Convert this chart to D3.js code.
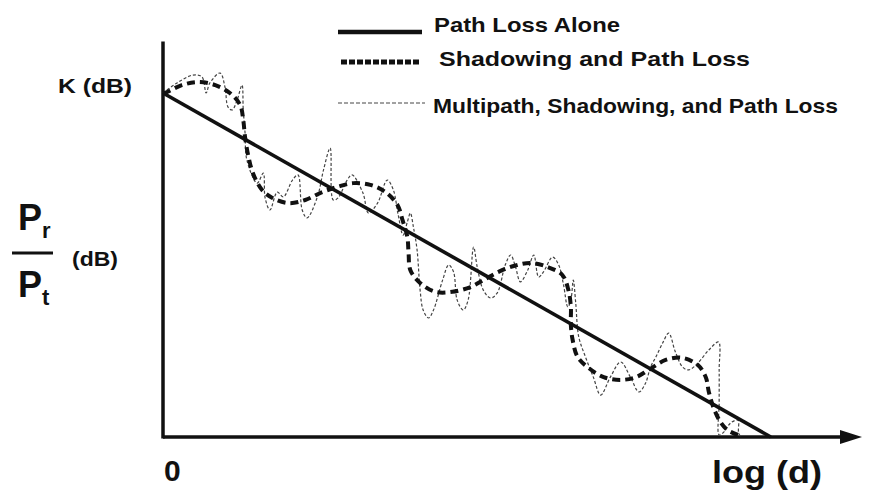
<!DOCTYPE html>
<html><head><meta charset="utf-8">
<script src="https://cdn.jsdelivr.net/npm/d3@7"></script>
<style>
body{margin:0;background:#fff}
text{font-family:"Liberation Sans",Arial,sans-serif;font-weight:bold;fill:#111}
</style>
</head><body><svg id="c" width="883" height="497"></svg>
<script>
// log(d) units on x, received power (dB, relative) on y
const pathLossX = [0, 100];
const pathLossY = [100, 0];
const shadowX = [0,0.3,3.1,5.8,8.6,11.0,12.7,13.2,13.5,14.0,14.8,16.3,18.0,20.6,23.4,26.2,28.7,31.3,34.1,36.6,38.6,39.4,40.2,40.4,40.7,42.3,44.8,47.6,50.6,52.7,55.2,57.7,60.5,63.3,65.7,66.7,67.1,67.1,67.4,68.2,70.0,72.5,75.3,77.8,79.9,82.7,85.5,88.0,89.3,89.8,90.6,91.8,92.9,94.6];
const shadowY = [100,100,102.3,103.2,102.3,100,96.5,92.2,87.2,82.0,76.7,71.8,69.5,68.0,68.9,71.2,72.7,73.8,73.3,71.2,67.4,63.1,58.1,53.5,48.5,44.8,42.2,42.2,43.6,45.6,48.0,49.7,50.6,49.4,47.1,42.7,37.8,32.6,28.2,23.3,20.1,17.4,16.6,17.4,19.5,22.4,23.0,20.9,17.4,13.1,8.4,4.1,2.0,0.6];
const multiX = [0,2.3,4.9,6.4,7.1,7.7,9.4,10.2,10.7,11.4,12.2,13.0,13.2,13.5,13.8,15.5,16.5,16.8,17.6,18.8,19.8,21.3,22.2,22.9,23.7,25.4,26.4,27.5,28.0,28.8,30.3,31.1,32.9,33.8,35.3,36.9,37.9,38.7,39.5,40.2,40.7,41.2,41.8,42.3,42.8,43.7,44.5,46.0,47.0,47.8,48.4,49.4,50.2,51.1,51.7,52.7,53.9,55.0,56.3,57.2,58.0,58.8,60.0,61.0,61.8,62.6,64.1,65.1,65.9,66.6,67.1,67.5,67.9,68.4,69.5,70.8,72.0,73.6,75.3,76.9,78.3,79.4,80.2,81.1,82.2,83.2,84.3,85.5,86.5,88.0,89.8,91.4,91.5,91.5,91.5,92.3,93.4,94.6,94.7,95.1];
const multiY = [100,102.9,105.2,104.7,100,102.9,105.8,101.7,95.9,95.1,98.0,102.3,95.1,88.4,80.5,73.8,76.7,69.5,66.0,71.2,69.8,74.7,76.2,66.0,63.7,69.8,77.6,84.0,68.9,69.5,74.7,76.2,70.9,65.1,68.0,74.7,71.8,64.5,58.7,62.5,65.1,61.0,54.4,42.7,36.9,34.6,36.9,45.6,50.0,48.0,39.8,36.9,39.8,55.2,49.4,42.7,40.4,41.9,50.0,52.9,49.4,45.1,48.5,52.9,46.5,48.0,52.3,50.0,44.2,37.8,39.8,45.6,39.0,29.1,23.3,17.4,12.2,17.4,21.8,17.4,13.1,15.7,20.3,23.3,27.3,30.2,24.7,20.3,19.5,21.5,25.3,27.6,19.5,9.9,0.6,1.5,4.1,4.9,1.2,0];
const seriesNames = ["Path Loss Alone", "Shadowing and Path Loss", "Multipath, Shadowing, and Path Loss"];
const xLabel = "log (d)";
const xTickLabel = "0";
const kLabel = "K (dB)";
const domainMax = 115;

const svg = d3.select("#c");
const x = d3.scaleLinear().domain([0, domainMax]).range([163, 862]);
const y = d3.scaleLinear().domain([0, domainMax]).range([437, 41.4]);

const styles = [
  {w:3.6, dash:null, col:"#111"},
  {w:4, dash:"8,5", col:"#111"},
  {w:1.2, dash:"3,2", col:"#444"}
];

// axes
svg.append("line").attr("x1", x(0)).attr("x2", x(0)).attr("y1", y(0)+1.5).attr("y2", y(domainMax))
  .attr("stroke","#111").attr("stroke-width",3.5);
svg.append("line").attr("x1", x(0)).attr("x2", x(domainMax)-16).attr("y1", y(0)).attr("y2", y(0))
  .attr("stroke","#111").attr("stroke-width",3.5);
svg.append("path")
  .attr("d", `M${x(domainMax)},${y(0)} L${x(domainMax)-22},${y(0)-7} L${x(domainMax)-22},${y(0)+7} Z`)
  .attr("fill","#111");

const line = d3.line().x(d=>x(d[0])).y(d=>y(d[1]));
const curve = d3.line().x(d=>x(d[0])).y(d=>y(d[1])).curve(d3.curveCatmullRom.alpha(0.5));

const data = [
  d3.zip(pathLossX, pathLossY),
  d3.zip(shadowX, shadowY),
  d3.zip(multiX, multiY)
];

// multipath (thin) first, then shadowing, then path loss on top
svg.append("path").attr("d", curve(data[2])).attr("fill","none")
  .attr("stroke",styles[2].col).attr("stroke-width",styles[2].w).attr("stroke-dasharray",styles[2].dash);
svg.append("path").attr("d", curve(data[1])).attr("fill","none")
  .attr("stroke",styles[1].col).attr("stroke-width",styles[1].w).attr("stroke-dasharray",styles[1].dash);
svg.append("path").attr("d", line(data[0])).attr("fill","none")
  .attr("stroke",styles[0].col).attr("stroke-width",styles[0].w);

// legend
const legY = [32, 62, 103];
const legTextY = [32, 66, 113];
const legTextX = [434, 439, 433];
const legTextLen = [186, 311, 405];
const legLine = [[338,422],[341,420],[338,425]];
const legStyle = [
  {w:4.5, dash:null, col:"#111"},
  {w:5, dash:"6,2", col:"#111"},
  {w:1, dash:"4,2", col:"#444"}
];
seriesNames.forEach((n,i)=>{
  svg.append("line").attr("x1",legLine[i][0]).attr("x2",legLine[i][1]).attr("y1",legY[i]).attr("y2",legY[i])
    .attr("stroke",legStyle[i].col).attr("stroke-width",legStyle[i].w).attr("stroke-dasharray",legStyle[i].dash);
  svg.append("text").attr("x",legTextX[i]).attr("y",legTextY[i]).attr("font-size",21)
    .attr("textLength",legTextLen[i]).attr("lengthAdjust","spacingAndGlyphs").text(n);
});

// labels
svg.append("text").attr("x",58).attr("y",93).attr("font-size",21)
  .attr("textLength",74).attr("lengthAdjust","spacingAndGlyphs").text(kLabel);
svg.append("text").attr("x",x(0)+1).attr("y",481).attr("font-size",30).text(xTickLabel);
svg.append("text").attr("x",712).attr("y",483).attr("font-size",31)
  .attr("textLength",110).attr("lengthAdjust","spacingAndGlyphs").text(xLabel);

// y label: Pr / Pt (dB), subscripts as tspans of the same text
const pr = svg.append("text").attr("x",18).attr("y",230);
pr.append("tspan").attr("font-size",36).text("P");
pr.append("tspan").attr("font-size",22).attr("dy",8).text("r");
svg.append("line").attr("x1",12).attr("x2",53).attr("y1",253).attr("y2",253).attr("stroke","#111").attr("stroke-width",3);
const pt = svg.append("text").attr("x",18).attr("y",297);
pt.append("tspan").attr("font-size",36).text("P");
pt.append("tspan").attr("font-size",22).attr("dy",8).text("t");
svg.append("text").attr("x",72).attr("y",266).attr("font-size",21)
  .attr("textLength",46).attr("lengthAdjust","spacingAndGlyphs").text("(dB)");
</script>
</body></html>
